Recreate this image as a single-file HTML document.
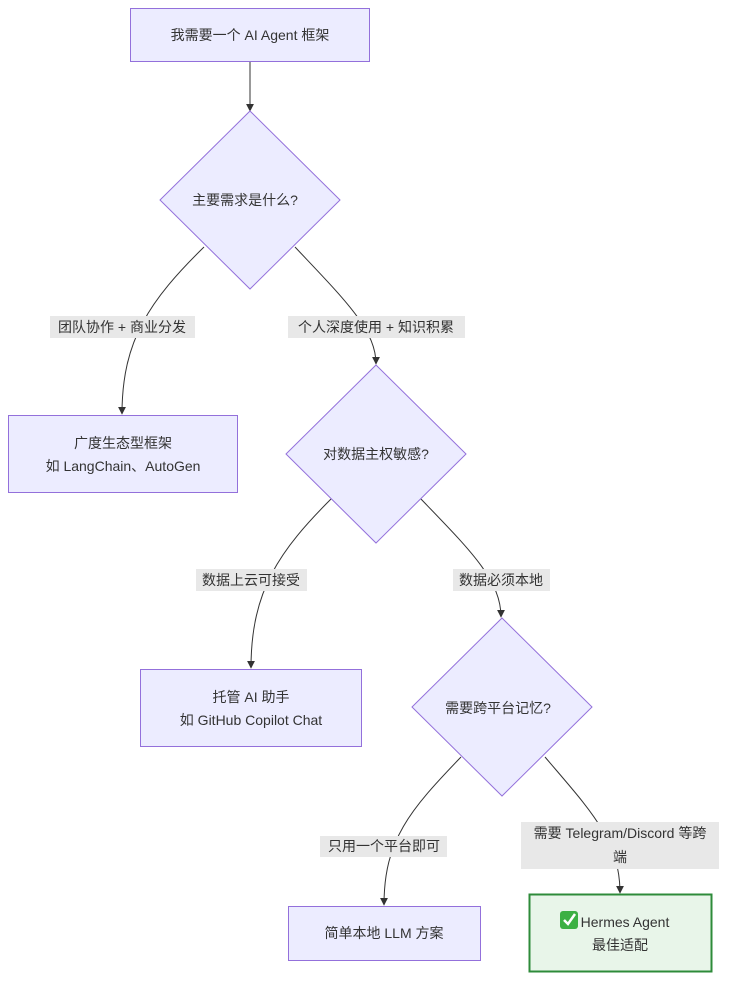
<!DOCTYPE html>
<html><head><meta charset="utf-8"><style>
html,body{margin:0;padding:0;background:#fff;}
svg{display:block;}
text{font-family:"Liberation Sans","Noto Sans CJK SC",sans-serif;font-size:14px;fill:#333;}
</style></head><body>
<svg width="735" height="990" viewBox="0 0 735 990" xmlns="http://www.w3.org/2000/svg">
<defs><marker id="a" viewBox="0 0 10 10" refX="9" refY="5" markerWidth="8" markerHeight="8" orient="auto"><path d="M0,0L10,5L0,10z" fill="#333"/></marker></defs>
<g fill="none" stroke="#333" stroke-width="1">
<path d="M250,61 L250,111" marker-end="url(#a)"/>
<path d="M204,247 C150,300 122,340 122,414" marker-end="url(#a)"/>
<path d="M295,247 C345,300 376,330 376,364" marker-end="url(#a)"/>
<path d="M332,498 C280,550 251,590 251,668" marker-end="url(#a)"/>
<path d="M420,498 C470,550 501,580 501,617" marker-end="url(#a)"/>
<path d="M461,757 C410,810 384,840 384,905" marker-end="url(#a)"/>
<path d="M545,757 C590,810 620,840 620,893" marker-end="url(#a)"/>
</g>
<g fill="#ECECFF" stroke="#9370DB" stroke-width="1">
<rect x="130.5" y="8.5" width="239" height="53"/>
<polygon points="250,111 340,200 250,289 160,200"/>
<rect x="8.5" y="415.5" width="229" height="77"/>
<polygon points="376,365 466,454 376,543 286,454"/>
<rect x="140.5" y="669.5" width="221" height="77"/>
<polygon points="502,618 592,707 502,796 412,707"/>
<rect x="288.5" y="906.5" width="192" height="54"/>
</g>
<rect x="529.5" y="894.5" width="182" height="77" fill="#E8F5E9" stroke="#2E8B3A" stroke-width="2"/>
<g fill="#e8e8e8">
<rect x="50" y="316" width="145" height="22"/>
<rect x="288" y="316" width="177" height="22"/>
<rect x="196" y="569" width="111" height="22"/>
<rect x="453" y="569" width="97" height="22"/>
<rect x="320" y="836" width="127" height="21"/>
<rect x="521" y="822" width="198" height="47"/>
</g>
<g text-anchor="middle">
<text x="250" y="40">我需要一个 AI Agent 框架</text>
<text x="245" y="205">主要需求是什么?</text>
<text x="122" y="332">团队协作 + 商业分发</text>
<text x="376" y="332">个人深度使用 + 知识积累</text>
<text x="123" y="448">广度生态型框架</text>
<text x="123" y="471">如 LangChain、AutoGen</text>
<text x="376" y="459">对数据主权敏感?</text>
<text x="251" y="585">数据上云可接受</text>
<text x="501" y="585">数据必须本地</text>
<text x="251" y="702">托管 AI 助手</text>
<text x="251" y="725">如 GitHub Copilot Chat</text>
<text x="498" y="713">需要跨平台记忆?</text>
<text x="384" y="851">只用一个平台即可</text>
<text x="620" y="838">需要 Telegram/Discord 等跨</text>
<text x="620" y="862">端</text>
<text x="384" y="938">简单本地 LLM 方案</text>
<text x="625" y="927">Hermes Agent</text>
<text x="620" y="950">最佳适配</text>
</g>
<rect x="560" y="911" width="18" height="18" rx="3" fill="#3cb043"/>
<path d="M564,920 L568,924 L575,914" fill="none" stroke="#fff" stroke-width="2.5"/>
</svg>
</body></html>
